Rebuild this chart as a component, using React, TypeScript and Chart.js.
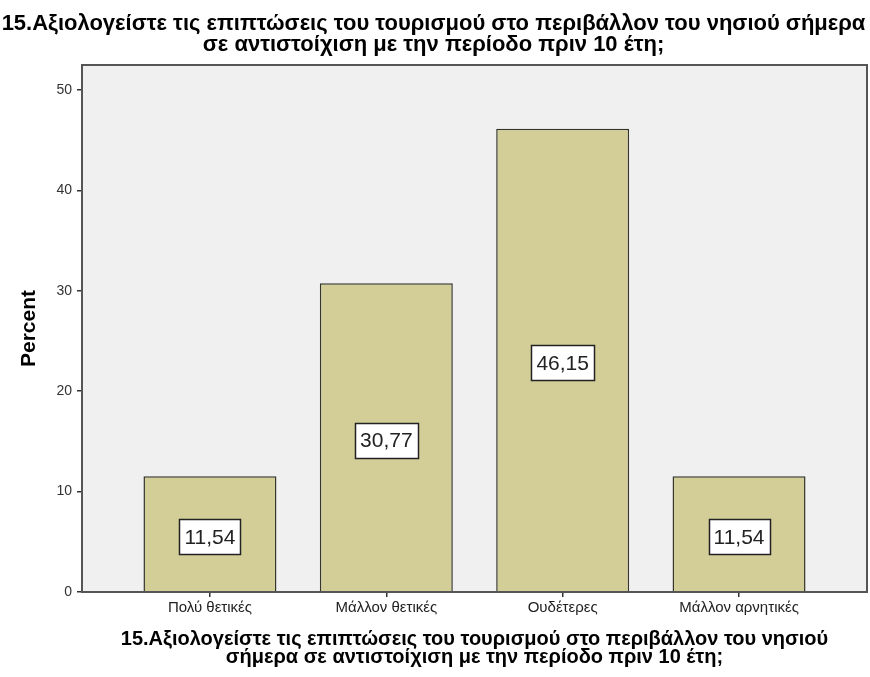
import React, { useEffect, useRef } from 'react';
import { Chart, registerables } from 'chart.js';

Chart.register(...registerables);

const categories = ['Πολύ θετικές', 'Μάλλον θετικές', 'Ουδέτερες', 'Μάλλον αρνητικές'];
const percentValues = [11.54, 30.77, 46.15, 11.54];
const yTickValues = [0, 10, 20, 30, 40, 50];
const titleLines = [
  '15.Αξιολογείστε τις επιπτώσεις του τουρισμού στο περιβάλλον του νησιού σήμερα',
  'σε αντιστοίχιση με την περίοδο πριν 10 έτη;',
];
const xTitleLines = [
  '15.Αξιολογείστε τις επιπτώσεις του τουρισμού στο περιβάλλον του νησιού',
  'σήμερα σε αντιστοίχιση με την περίοδο πριν 10 έτη;',
];
const yTitle = 'Percent';

const FONT = '"Liberation Sans", Arial, sans-serif';

const framePlugin = {
  id: 'spssFrame',
  beforeDraw(chart: any) {
    const { ctx, chartArea: a } = chart;
    ctx.save();
    ctx.fillStyle = '#f0f0f0';
    ctx.fillRect(a.left, a.top, a.right - a.left, a.bottom - a.top);
    ctx.restore();
  },
  afterDatasetsDraw(chart: any) {
    const { ctx, chartArea: a } = chart;
    ctx.save();
    ctx.strokeStyle = '#555555';
    ctx.lineWidth = 2;
    ctx.strokeRect(a.left, a.top, a.right - a.left, a.bottom - a.top);
    ctx.restore();

    const meta = chart.getDatasetMeta(0);
    const values = chart.data.datasets[0].data as any[];
    ctx.save();
    ctx.font = `21px ${FONT}`;
    ctx.textAlign = 'center';
    ctx.textBaseline = 'middle';
    meta.data.forEach((bar: any, i: number) => {
      const { x, y, base } = bar.getProps(['x', 'y', 'base'], true);
      const v = values[i].y as number;
      const txt = v.toFixed(2).replace('.', ',');
      const tw = ctx.measureText(txt).width;
      const w = Math.round(tw + 10);
      const h = 35;
      const cy = (y + base) / 2 + 3;
      const bx = Math.round(x - w / 2) + 0.5;
      const by = Math.round(cy - h / 2) + 0.5;
      ctx.fillStyle = '#ffffff';
      ctx.fillRect(bx, by, w, h);
      ctx.strokeStyle = '#222222';
      ctx.lineWidth = 1.5;
      ctx.strokeRect(bx, by, w, h);
      ctx.fillStyle = '#222222';
      ctx.fillText(txt, x, cy + 1);
    });
    ctx.restore();
  },
};

export default function App() {
  const ref = useRef<HTMLCanvasElement | null>(null);

  useEffect(() => {
    if (!ref.current) return;
    const chart = new Chart(ref.current, {
      type: 'bar',
      data: {
        datasets: [
          {
            data: percentValues.map((v, i) => ({ x: i, y: v })),
            backgroundColor: '#d3ce98',
            borderColor: '#35352c',
            borderWidth: 1.5,
            categoryPercentage: 1,
            barPercentage: 0.754,
          },
        ],
      },
      options: {
        responsive: false,
        animation: false,
        layout: { padding: { left: 0, right: 3, top: 0, bottom: 0 } },
        plugins: {
          legend: { display: false },
          tooltip: { enabled: false },
          title: {
            display: true,
            text: titleLines,
            color: '#000000',
            font: { family: FONT, size: 22, weight: 'bold', lineHeight: '21px' },
            padding: { top: 13, bottom: 10 },
          },
        },
        scales: {
          x: {
            type: 'linear',
            min: -0.7255,
            max: 3.7255,
            offset: false,
            afterBuildTicks: (s: any) => {
              s.ticks = categories.map((_, i) => ({ value: i }));
            },
            afterFit: (s: any) => {
              s.height = 85;
            },
            ticks: {
              autoSkip: false,
              maxRotation: 0,
              padding: 2,
              color: '#222222',
              font: { family: FONT, size: 15 },
              callback: (v: any) => categories[v as number] ?? '',
            },
            grid: {
              display: true,
              offset: false,
              drawOnChartArea: false,
              drawTicks: true,
              tickLength: 5,
              color: '#333333',
              lineWidth: 1.5,
            },
            border: { display: false },
            title: {
              display: true,
              text: xTitleLines,
              color: '#000000',
              font: { family: FONT, size: 20, weight: 'bold', lineHeight: '18px' },
              padding: { top: 0, bottom: 11 },
            },
          },
          y: {
            min: 0,
            max: 52.5,
            afterBuildTicks: (s: any) => {
              s.ticks = yTickValues.map((v) => ({ value: v }));
            },
            afterFit: (s: any) => {
              s.width = 82;
            },
            ticks: {
              padding: 5,
              color: '#333333',
              font: { family: FONT, size: 14 },
            },
            grid: {
              display: true,
              drawOnChartArea: false,
              drawTicks: true,
              tickLength: 5,
              color: '#333333',
              lineWidth: 1.5,
            },
            border: { display: false },
            title: {
              display: true,
              text: yTitle,
              color: '#000000',
              font: { family: FONT, size: 21, weight: 'bold', lineHeight: 1.2 },
              padding: { top: 17, bottom: 0 },
            },
          },
        },
      },
      plugins: [framePlugin],
    } as any);
    return () => chart.destroy();
  }, []);

  return (
    <div style={{ position: 'absolute', left: 0, top: 0, width: 870, height: 677, background: '#ffffff' }}>
      <canvas ref={ref} width={870} height={677} style={{ display: 'block' }} />
    </div>
  );
}
